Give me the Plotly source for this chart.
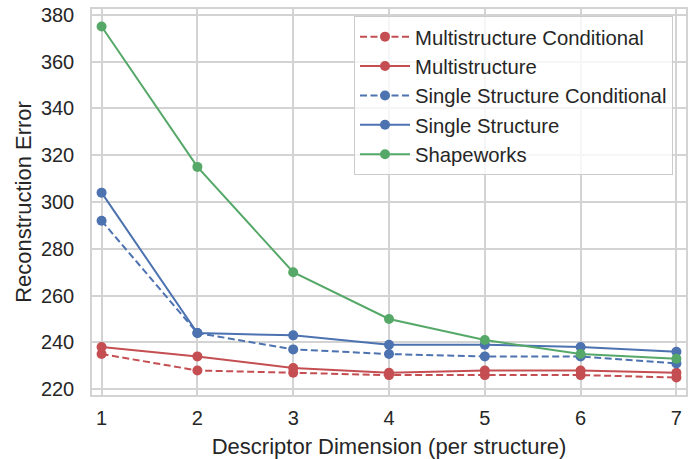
import plotly.graph_objects as go

dims = [1, 2, 3, 4, 5, 6, 7]
multi_cond = [235, 228, 227, 226, 226, 226, 225]
multi = [238, 234, 229, 227, 228, 228, 227]
single_cond = [292, 244, 237, 235, 234, 234, 231]
single = [304, 244, 243, 239, 239, 238, 236]
shapeworks = [375, 315, 270, 250, 241, 235, 233]

y_ticks = [220, 240, 260, 280, 300, 320, 340, 360, 380]

RED = "#C44E52"
BLUE = "#4C72B0"
GREEN = "#55A868"
FONT = "Liberation Sans, Arial, sans-serif"
TXT = "#262626"
GRID = "#d3d3d3"

series = [
    ("Multistructure Conditional", multi_cond, RED, "7px,3.5px"),
    ("Multistructure", multi, RED, "solid"),
    ("Single Structure Conditional", single_cond, BLUE, "7px,3.5px"),
    ("Single Structure", single, BLUE, "solid"),
    ("Shapeworks", shapeworks, GREEN, "solid"),
]

fig = go.Figure()
for name, vals, color, dash in series:
    fig.add_trace(go.Scatter(
        x=dims, y=vals, name=name, mode="lines+markers",
        line=dict(color=color, width=2, dash=dash),
        marker=dict(color=color, size=10),
    ))

fig.update_layout(
    width=696, height=459,
    margin=dict(l=92, r=10, t=9, b=64),
    paper_bgcolor="white", plot_bgcolor="white",
    font=dict(family=FONT, size=20, color=TXT),
    showlegend=True,
    legend=dict(
        x=(354 - 92) / 594, y=0.982, xanchor="left", yanchor="top",
        bgcolor="rgba(255,255,255,0.8)", bordercolor="#cccccc", borderwidth=1,
        font=dict(family=FONT, size=20.3, color=TXT),
        tracegroupgap=0, itemwidth=50,
    ),
)
fig.update_xaxes(
    range=[0.9, 7.1], tickvals=dims, ticktext=[str(d) for d in dims],
    showgrid=True, gridcolor=GRID, gridwidth=1.5,
    showline=True, linecolor=GRID, linewidth=1.5, mirror=True,
    zeroline=False, ticks="outside", ticklen=4, tickcolor="rgba(0,0,0,0)",
    tickfont=dict(family=FONT, size=20, color=TXT), automargin=False,
    title=dict(text="Descriptor Dimension (per structure)", font=dict(family=FONT, size=22, color=TXT), standoff=15),
)
fig.update_yaxes(
    range=[217.5, 382.5], tickvals=y_ticks,
    showgrid=True, gridcolor=GRID, gridwidth=1.5,
    showline=True, linecolor=GRID, linewidth=1.5, mirror=True,
    zeroline=False, ticks="outside", ticklen=12, tickcolor="rgba(0,0,0,0)",
    tickfont=dict(family=FONT, size=20, color=TXT), automargin=False,
    title=dict(text="Reconstruction Error", font=dict(family=FONT, size=22, color=TXT), standoff=3),
)

fig.write_html("out.html")
